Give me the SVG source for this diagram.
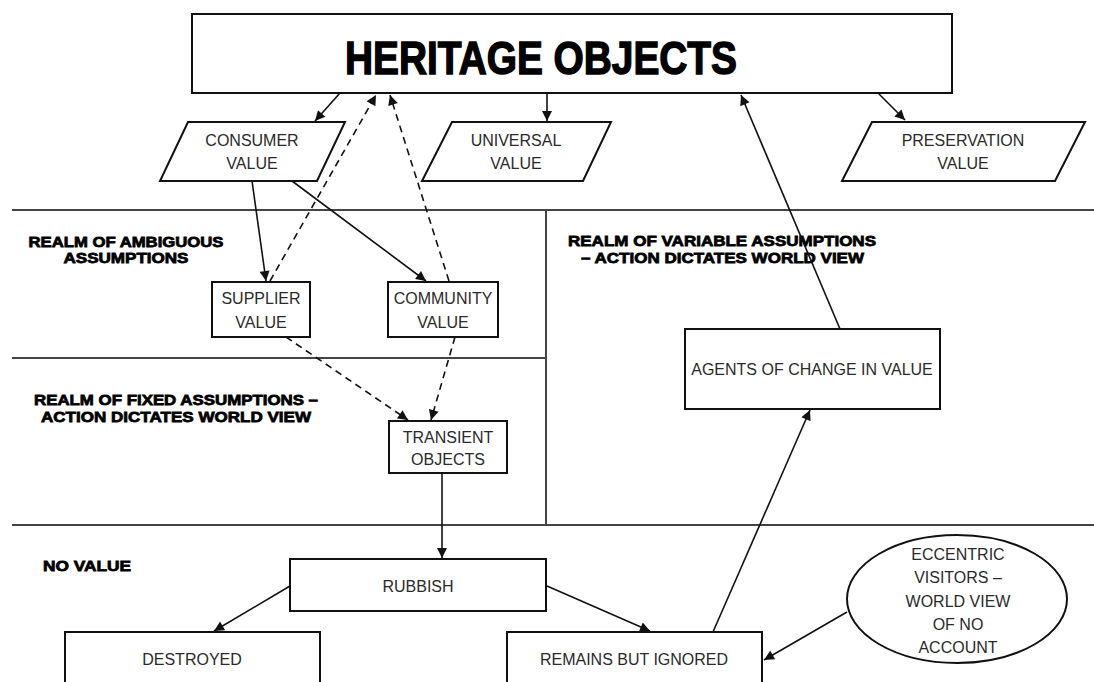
<svg xmlns="http://www.w3.org/2000/svg" width="1094" height="682" viewBox="0 0 1094 682">
<style>
.box{fill:#fff;stroke:#111;stroke-width:2}
.div{stroke:#444;stroke-width:2;fill:none}
.t{font-family:"Liberation Sans",Arial,sans-serif;font-size:16px;fill:#2a2a2a;text-anchor:middle}
.h{font-family:"Liberation Sans",Arial,sans-serif;font-weight:bold;font-size:15.5px;fill:#000;stroke:#000;stroke-width:0.8}
.c{stroke:#111;stroke-width:1.6;fill:none;marker-end:url(#ah)}
.d{stroke-dasharray:7 5}
</style>
<defs>
<marker id="ah" viewBox="0 0 10 10" refX="10" refY="5" markerWidth="11" markerHeight="10" markerUnits="userSpaceOnUse" orient="auto"><path d="M0,0 L10,5 L0,10 z" fill="#111"/></marker>
</defs>
<rect width="1094" height="682" fill="#fff"/>
<g id="dividers">
<line class="div" x1="12" y1="210" x2="1094" y2="210"/>
<line class="div" x1="546" y1="210" x2="546" y2="525"/>
<line class="div" x1="12" y1="358" x2="546" y2="358"/>
<line class="div" x1="12" y1="525" x2="1094" y2="525"/>
</g>
<g id="labels">
<text class="h" x="126" y="247" text-anchor="middle" textLength="195" lengthAdjust="spacingAndGlyphs">REALM OF AMBIGUOUS</text>
<text class="h" x="126" y="263" text-anchor="middle" textLength="125" lengthAdjust="spacingAndGlyphs">ASSUMPTIONS</text>
<text class="h" x="568" y="246" textLength="308" lengthAdjust="spacingAndGlyphs">REALM OF VARIABLE ASSUMPTIONS</text>
<text class="h" x="581" y="263" textLength="283" lengthAdjust="spacingAndGlyphs">– ACTION DICTATES WORLD VIEW</text>
<text class="h" x="34" y="405" textLength="284" lengthAdjust="spacingAndGlyphs">REALM OF FIXED ASSUMPTIONS –</text>
<text class="h" x="41" y="422" textLength="270" lengthAdjust="spacingAndGlyphs">ACTION DICTATES WORLD VIEW</text>
<text class="h" x="43" y="571" textLength="88" lengthAdjust="spacingAndGlyphs">NO VALUE</text>
</g>
<g id="heritage">
<rect class="box" x="192" y="14" width="760" height="79"/>
<text x="541" y="74" text-anchor="middle" font-family="'Liberation Sans',Arial,sans-serif" font-weight="bold" font-size="46" stroke="#000" stroke-width="1.4" textLength="392" lengthAdjust="spacingAndGlyphs">HERITAGE OBJECTS</text>
</g>
<g id="consumer">
<polygon class="box" points="188,122 345,122 317,181 160,181"/>
<text class="t" x="252" y="146">CONSUMER</text>
<text class="t" x="252" y="169">VALUE</text>
</g>
<g id="universal">
<polygon class="box" points="452,122 611,122 583,181 422,181"/>
<text class="t" x="516" y="146">UNIVERSAL</text>
<text class="t" x="516" y="169">VALUE</text>
</g>
<g id="preservation">
<polygon class="box" points="872,122 1085,122 1055,181 842,181"/>
<text class="t" x="963" y="146">PRESERVATION</text>
<text class="t" x="963" y="169">VALUE</text>
</g>
<g id="supplier">
<rect class="box" x="212" y="282" width="98" height="55"/>
<text class="t" x="261" y="304">SUPPLIER</text>
<text class="t" x="261" y="328">VALUE</text>
</g>
<g id="community">
<rect class="box" x="388" y="282" width="110" height="55"/>
<text class="t" x="443" y="304">COMMUNITY</text>
<text class="t" x="443" y="328">VALUE</text>
</g>
<g id="transient">
<rect class="box" x="389" y="421" width="118" height="52"/>
<text class="t" x="448" y="443">TRANSIENT</text>
<text class="t" x="448" y="465">OBJECTS</text>
</g>
<g id="agents">
<rect class="box" x="685" y="329" width="255" height="80"/>
<text class="t" x="812" y="375">AGENTS OF CHANGE IN VALUE</text>
</g>
<g id="rubbish">
<rect class="box" x="290" y="559" width="256" height="52"/>
<text class="t" x="418" y="592">RUBBISH</text>
</g>
<g id="destroyed">
<rect class="box" x="65" y="632" width="255" height="60"/>
<text class="t" x="192" y="665">DESTROYED</text>
</g>
<g id="remains">
<rect class="box" x="507" y="632" width="255" height="60"/>
<text class="t" x="634" y="665">REMAINS BUT IGNORED</text>
</g>
<g id="eccentric">
<ellipse class="box" cx="957" cy="599" rx="110" ry="64"/>
<text class="t" x="958" y="560">ECCENTRIC</text>
<text class="t" x="958" y="583">VISITORS –</text>
<text class="t" x="958" y="607">WORLD VIEW</text>
<text class="t" x="958" y="630">OF NO</text>
<text class="t" x="958" y="653">ACCOUNT</text>
</g>
<g id="connectors">
<line class="c" x1="340" y1="93" x2="315" y2="121"/>
<line class="c" x1="547" y1="93" x2="547" y2="121"/>
<line class="c" x1="878" y1="93" x2="905" y2="120"/>
<line class="c d" x1="270" y1="281" x2="376" y2="95"/>
<line class="c d" x1="449" y1="281" x2="390" y2="95"/>
<line class="c" x1="252" y1="181" x2="266" y2="281"/>
<line class="c" x1="292" y1="181" x2="426" y2="281" stroke-width="2.2"/>
<line class="c d" x1="286" y1="337" x2="408" y2="420"/>
<line class="c d" x1="455" y1="337" x2="431" y2="420"/>
<line class="c" x1="442" y1="473" x2="442" y2="558"/>
<line class="c" x1="290" y1="586" x2="214" y2="631" stroke-width="2"/>
<line class="c" x1="547" y1="586" x2="650" y2="631" stroke-width="2"/>
<line class="c" x1="713" y1="632" x2="810" y2="410"/>
<line class="c" x1="847" y1="612" x2="764" y2="660" stroke-width="2"/>
<line class="c" x1="840" y1="329" x2="741" y2="95" stroke-width="2"/>
</g>
</svg>
